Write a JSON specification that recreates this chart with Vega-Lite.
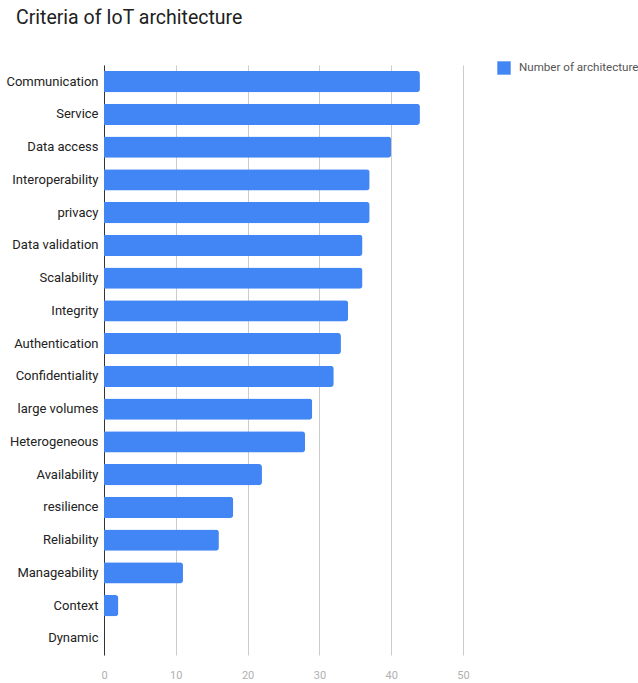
{
  "$schema": "https://vega.github.io/schema/vega-lite/v6.json",
  "autosize": "none",
  "padding": {"left": 104, "top": 65, "right": 175, "bottom": 28},
  "width": 359,
  "height": 590,
  "background": "white",
  "title": {
    "text": "Criteria of IoT architecture",
    "anchor": "start",
    "frame": "group",
    "dx": -88,
    "offset": 18,
    "font": "Roboto",
    "fontSize": 19.5,
    "fontWeight": "normal",
    "color": "#212121",
    "baseline": "alphabetic",
    "limit": 600
  },
  "data": {
    "values": [
      {"criterion": "Communication", "count": 44, "series": "Number of architecture"},
      {"criterion": "Service", "count": 44, "series": "Number of architecture"},
      {"criterion": "Data access", "count": 40, "series": "Number of architecture"},
      {"criterion": "Interoperability", "count": 37, "series": "Number of architecture"},
      {"criterion": "privacy", "count": 37, "series": "Number of architecture"},
      {"criterion": "Data validation", "count": 36, "series": "Number of architecture"},
      {"criterion": "Scalability", "count": 36, "series": "Number of architecture"},
      {"criterion": "Integrity", "count": 34, "series": "Number of architecture"},
      {"criterion": "Authentication", "count": 33, "series": "Number of architecture"},
      {"criterion": "Confidentiality", "count": 32, "series": "Number of architecture"},
      {"criterion": "large volumes", "count": 29, "series": "Number of architecture"},
      {"criterion": "Heterogeneous", "count": 28, "series": "Number of architecture"},
      {"criterion": "Availability", "count": 22, "series": "Number of architecture"},
      {"criterion": "resilience", "count": 18, "series": "Number of architecture"},
      {"criterion": "Reliability", "count": 16, "series": "Number of architecture"},
      {"criterion": "Manageability", "count": 11, "series": "Number of architecture"},
      {"criterion": "Context", "count": 2, "series": "Number of architecture"},
      {"criterion": "Dynamic", "count": 0, "series": "Number of architecture"}
    ]
  },
  "mark": {"type": "bar", "cornerRadiusEnd": 3},
  "encoding": {
    "y": {
      "field": "criterion",
      "type": "nominal",
      "sort": null,
      "scale": {"paddingInner": 0.35, "paddingOuter": 0.18},
      "axis": {
        "title": null,
        "ticks": false,
        "domain": true,
        "domainColor": "#333333",
        "domainWidth": 1,
        "grid": false,
        "labelFont": "Roboto",
        "labelFontSize": 13,
        "labelColor": "#222222",
        "labelPadding": 6,
        "labelLimit": 120
      }
    },
    "x": {
      "field": "count",
      "type": "quantitative",
      "scale": {"domain": [0, 50], "nice": false},
      "axis": {
        "title": null,
        "values": [0, 10, 20, 30, 40, 50],
        "domain": false,
        "ticks": false,
        "grid": true,
        "gridColor": "#cccccc",
        "gridWidth": 1,
        "labelFont": "Roboto",
        "labelFontSize": 11,
        "labelColor": "#b0b0b0",
        "labelPadding": 14,
        "labelFlush": false
      }
    },
    "color": {
      "field": "series",
      "type": "nominal",
      "scale": {"range": ["#4285f4"]},
      "legend": {
        "title": null,
        "orient": "none",
        "legendX": 393,
        "legendY": -4,
        "symbolType": "square",
        "symbolSize": 180,
        "symbolStrokeWidth": 0,
        "labelFont": "Roboto",
        "labelFontSize": 11.6,
        "labelColor": "#555555",
        "labelOffset": 8,
        "labelLimit": 200,
        "padding": 0
      }
    }
  },
  "config": {"view": {"stroke": null}}
}
